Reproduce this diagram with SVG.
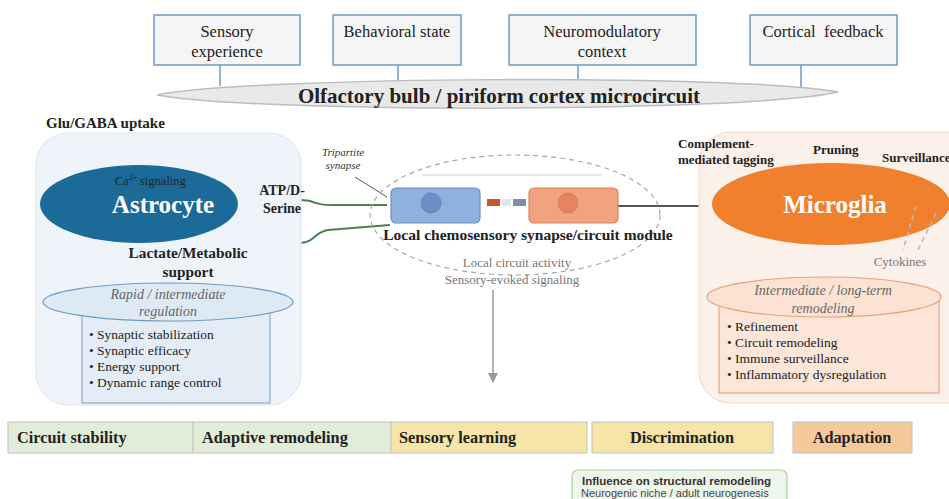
<svg xmlns="http://www.w3.org/2000/svg" width="949" height="499" viewBox="0 0 949 499">
  <defs>
    <marker id="arrowGray" viewBox="0 0 10 10" refX="9" refY="5" markerWidth="7" markerHeight="7" orient="auto">
      <path d="M0,0 L10,5 L0,10 Z" fill="#9a9a9a"/>
    </marker>
    <style>
      .serif { font-family: "Liberation Serif", "Times New Roman", serif; }
      .sans { font-family: "Liberation Sans", Arial, sans-serif; }
      .ctx-box { fill: #f5f5f5; stroke: #6b9ac6; stroke-width: 1.5; }
      .ctx-link { stroke: #6b9ac6; stroke-width: 1.5; fill: none; }
      .ctx-text { font-size: 16.5px; fill: #222; text-anchor: middle; }
      .bold { font-weight: bold; }
      .label { font-size: 13px; font-weight: bold; fill: #222; }
      .bullet { font-size: 13.5px; fill: #222; }
      .note { font-size: 14px; font-style: italic; fill: #666; text-anchor: middle; }
      .gray { font-size: 13px; fill: #777; text-anchor: middle; }
      .bar { stroke: #c9c9c9; stroke-width: 1.2; }
      .bar-text { font-size: 16.3px; font-weight: bold; fill: #222; }
      .glia-link { fill: none; stroke: #4f7f52; stroke-width: 2; }
    </style>
  </defs>

  <!-- Upstream context inputs -->
  <g id="ctx-sensory">
    <rect class="ctx-box" x="154" y="15" width="146" height="50"/>
    <text class="serif ctx-text" x="227" y="37">Sensory</text>
    <text class="serif ctx-text" x="227" y="57">experience</text>
  </g>
  <g id="ctx-behavior">
    <rect class="ctx-box" x="333" y="15" width="128" height="50"/>
    <text class="serif ctx-text" x="397" y="37">Behavioral state</text>
  </g>
  <g id="ctx-neuromod">
    <rect class="ctx-box" x="509" y="15" width="187" height="50"/>
    <text class="serif ctx-text" x="602" y="37">Neuromodulatory</text>
    <text class="serif ctx-text" x="602" y="57">context</text>
  </g>
  <g id="ctx-cortical">
    <rect class="ctx-box" x="750" y="15" width="147" height="50"/>
    <text class="serif ctx-text" x="823" y="37" xml:space="preserve">Cortical  feedback</text>
  </g>

  <!-- Connectors -->
  <g id="connectors">
    <line class="ctx-link" x1="220" y1="65" x2="220" y2="86"/>
    <line class="ctx-link" x1="398" y1="65" x2="398" y2="82"/>
    <line class="ctx-link" x1="578" y1="65" x2="578" y2="82"/>
    <line class="ctx-link" x1="801" y1="65" x2="801" y2="88"/>
    <path class="glia-link" d="M237,199 C275,199 300,199 310,201 C318,204 322,205 334,205 L387,205"/>
    <path class="glia-link" d="M250,245 L300,243 C316,242 314,232 328,230 L390,225"/>
    <line x1="618" y1="206" x2="735" y2="206" stroke="#555" stroke-width="2"/>
    <line x1="355" y1="177" x2="387" y2="197" stroke="#555" stroke-width="1"/>
    <line x1="493" y1="290" x2="493" y2="382" stroke="#9a9a9a" stroke-width="1.5" marker-end="url(#arrowGray)"/>
  </g>

  <!-- Microcircuit band -->
  <g id="microcircuit">
    <path d="M157,95 C250,76 745,74 838,92 C745,113 250,113 157,95 Z" fill="#e9e9e9" stroke="#bdbdbd" stroke-width="1.5"/>
    <text class="serif bold" x="499" y="103" font-size="21" fill="#222" text-anchor="middle">Olfactory bulb / piriform cortex microcircuit</text>
  </g>

  <!-- Astrocyte panel -->
  <g id="astrocyte">
    <rect x="36" y="133" width="265" height="272" rx="32" fill="#eef4fa" stroke="#dfe8f1" stroke-width="1.2"/>
    <text class="serif bold" x="46" y="128" font-size="15" fill="#222">Glu/GABA uptake</text>
    <ellipse cx="139" cy="204" rx="99" ry="39" fill="#1c6a98"/>
    <text class="serif" x="115" y="185" font-size="12.5" fill="#222">Ca<tspan font-size="7.5" dy="-5">2+</tspan><tspan dy="5"> signaling</tspan></text>
    <text class="serif bold" x="163" y="213" font-size="25" fill="#fff" text-anchor="middle">Astrocyte</text>
    <text class="serif bold" x="282" y="195" font-size="14" fill="#222" text-anchor="middle">ATP/D-</text>
    <text class="serif bold" x="282" y="213" font-size="14" fill="#222" text-anchor="middle">Serine</text>
    <text class="serif bold" x="188" y="258" font-size="15.3" fill="#222" text-anchor="middle">Lactate/Metabolic</text>
    <text class="serif bold" x="188" y="277" font-size="15.3" fill="#222" text-anchor="middle">support</text>
    <rect x="82" y="303" width="188" height="100" fill="#e4edf6" stroke="#8ab0d2" stroke-width="1.2"/>
    <ellipse cx="168" cy="302" rx="125" ry="19" fill="#dde9f3" stroke="#6f9cc4" stroke-width="1.2"/>
    <text class="serif note" x="168" y="299">Rapid / intermediate</text>
    <text class="serif note" x="168" y="316">regulation</text>
    <text class="serif bullet" x="89" y="339">• Synaptic stabilization</text>
    <text class="serif bullet" x="89" y="355">• Synaptic efficacy</text>
    <text class="serif bullet" x="89" y="371">• Energy support</text>
    <text class="serif bullet" x="89" y="387">• Dynamic range control</text>
  </g>

  <!-- Local synapse / circuit module -->
  <g id="synapse-module">
    <ellipse cx="515" cy="215" rx="145" ry="60" fill="none" stroke="#a8a8a8" stroke-width="1.2" stroke-dasharray="5,4"/>
    <line x1="422" y1="175" x2="602" y2="175" stroke="#d0d0d0" stroke-width="1.2"/>
    <text class="serif" x="343" y="156" font-size="11" font-style="italic" fill="#333" text-anchor="middle">Tripartite</text>
    <text class="serif" x="343" y="169" font-size="11" font-style="italic" fill="#333" text-anchor="middle">synapse</text>
    <rect x="391" y="188" width="89" height="35" rx="5" fill="#8fb1de" stroke="#6b90c4" stroke-width="1.2"/>
    <circle cx="431" cy="203" r="10" fill="#6a8fc7" stroke="#5a80b8" stroke-width="0.8"/>
    <rect x="487" y="199" width="13" height="7" fill="#c9562e"/>
    <rect x="502" y="199" width="9" height="7" fill="#e6e6e6"/>
    <rect x="513" y="199" width="13" height="7" fill="#7d8fa8"/>
    <rect x="529" y="188" width="89" height="35" rx="5" fill="#f1a27e" stroke="#e2825a" stroke-width="1.2"/>
    <circle cx="568" cy="203" r="10" fill="#e5845e" stroke="#d87650" stroke-width="0.8"/>
    <text class="serif bold" x="528" y="240" font-size="15.5" fill="#222" text-anchor="middle">Local chemosensory synapse/circuit module</text>
    <text class="serif gray" x="517" y="267">Local circuit activity</text>
    <text class="serif gray" x="512" y="284">Sensory-evoked signaling</text>
  </g>

  <!-- Microglia panel -->
  <g id="microglia">
    <rect x="699" y="132" width="290" height="271" rx="32" fill="#fcf1ea" stroke="#f0dccd" stroke-width="1.2"/>
    <ellipse cx="831" cy="204" rx="119" ry="41" fill="#f07f2e"/>
    <line x1="916" y1="206" x2="903" y2="250" stroke="#b8b8b8" stroke-width="1.5" stroke-dasharray="5,4"/>
    <line x1="936" y1="213" x2="917" y2="252" stroke="#b8b8b8" stroke-width="1.5" stroke-dasharray="5,4"/>
    <text class="serif bold" x="835" y="213" font-size="25" fill="#fff" text-anchor="middle">Microglia</text>
    <text class="serif label" x="678" y="148">Complement-</text>
    <text class="serif label" x="678" y="164">mediated tagging</text>
    <text class="serif label" x="813" y="154">Pruning</text>
    <text class="serif label" x="882" y="162">Surveillance</text>
    <text class="serif gray" x="900" y="266">Cytokines</text>
    <rect x="719" y="300" width="220" height="93" fill="#fbe6d9" stroke="#e3a98a" stroke-width="1.2"/>
    <ellipse cx="824" cy="297" rx="117" ry="20" fill="#fbe2d2" stroke="#e8a27a" stroke-width="1.2"/>
    <text class="serif note" x="823" y="295">Intermediate / long-term</text>
    <text class="serif note" x="823" y="313">remodeling</text>
    <text class="serif bullet" x="727" y="331">• Refinement</text>
    <text class="serif bullet" x="727" y="347">• Circuit remodeling</text>
    <text class="serif bullet" x="727" y="363">• Immune surveillance</text>
    <text class="serif bullet" x="727" y="379">• Inflammatory dysregulation</text>
  </g>

  <!-- Functional outcomes -->
  <g id="outcome-stability">
    <rect class="bar" x="8" y="422" width="185" height="31" fill="#e2edd8"/>
    <text class="serif bar-text" x="17" y="443">Circuit stability</text>
  </g>
  <g id="outcome-adaptive">
    <rect class="bar" x="193" y="422" width="198" height="31" fill="#e2edd8"/>
    <text class="serif bar-text" x="202" y="443">Adaptive remodeling</text>
  </g>
  <g id="outcome-learning">
    <rect class="bar" x="391" y="422" width="196" height="31" fill="#f5e6a7"/>
    <text class="serif bar-text" x="399" y="443">Sensory learning</text>
  </g>
  <g id="outcome-discrimination">
    <rect class="bar" x="592" y="422" width="181" height="31" fill="#f5e6a7"/>
    <text class="serif bar-text" x="682" y="443" text-anchor="middle">Discrimination</text>
  </g>
  <g id="outcome-adaptation">
    <rect class="bar" x="793" y="422" width="119" height="31" fill="#f6c99b"/>
    <text class="serif bar-text" x="852" y="443" text-anchor="middle">Adaptation</text>
  </g>

  <!-- Structural remodeling note -->
  <g id="structural-note">
    <rect x="572" y="470" width="215" height="40" rx="6" fill="#eef5ea" stroke="#a9d0a0" stroke-width="1.2"/>
    <text class="sans" x="582" y="485" font-size="11.5" font-weight="bold" fill="#333">Influence on structural remodeling</text>
    <text class="sans" x="581" y="497" font-size="11" fill="#444">Neurogenic niche / adult neurogenesis</text>
  </g>
</svg>
